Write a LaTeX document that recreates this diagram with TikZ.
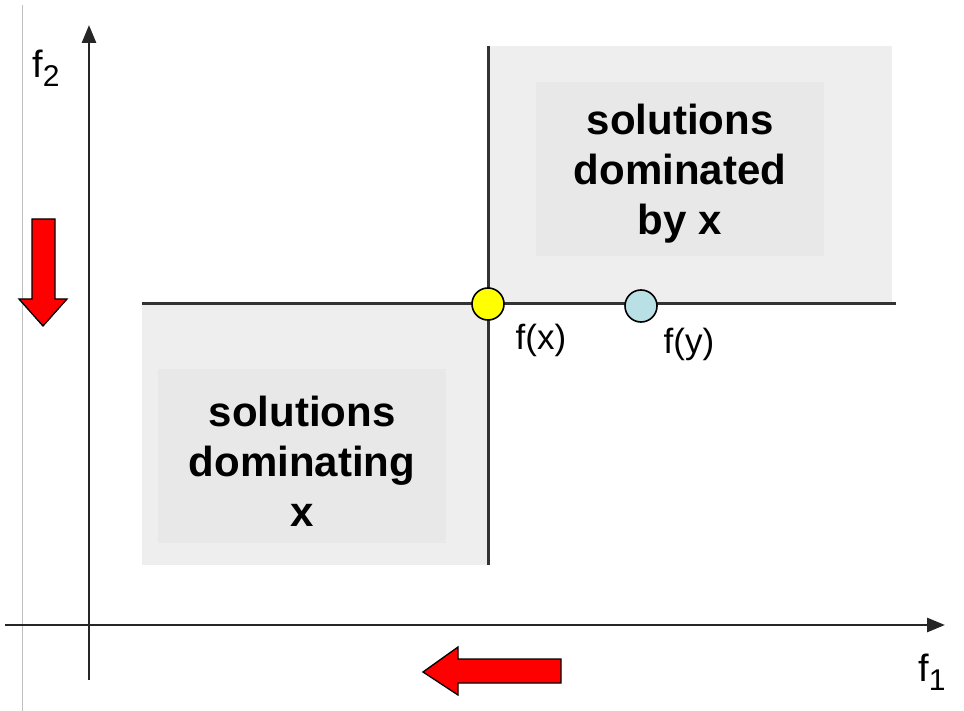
\documentclass[tikz,border=0pt]{standalone}
\usepackage{fontspec}
\setmainfont{Liberation Sans}
\usetikzlibrary{arrows.meta}
\definecolor{ptblue}{RGB}{185,224,228}
\definecolor{ptyellow}{RGB}{255,255,0}
\begin{document}
\begin{tikzpicture}[x=1pt,y=-1pt,
  region/.style={fill=gray!13,draw=none},
  inner/.style={fill=gray!18,draw=none},
  guide/.style={line width=3pt,draw=black!80},
  axis/.style={line width=2.8pt,draw=black!85,-{Triangle[length=18pt,width=14pt]}},
  bigtext/.style={align=center,font=\fontsize{42}{50}\selectfont\bfseries},
  lbl/.style={font=\fontsize{35}{40}\selectfont,inner sep=0pt},
  axlbl/.style={font=\fontsize{38}{40}\selectfont,inner sep=0pt},
  dot/.style={circle,draw=black,line width=1.6pt,minimum size=32pt,inner sep=0pt},
  redarrow/.style={fill=red,draw=black,line width=1.3pt,line join=miter}]
\useasboundingbox (0,0) rectangle (964,711);
\fill[white] (0,0) rectangle (964,711);
\draw[gray!50,line width=1pt] (22,5) -- (22,711);
% regions
\fill[region] (488,46) rectangle (892,304);
\fill[inner] (536,82) rectangle (824,256);
\fill[region] (142,304) rectangle (488,565);
\fill[inner] (158,369) rectangle (446,543);
% guide lines
\coordinate (hl) at (142,304);
\coordinate (hr) at (896,304);
\coordinate (vt) at (488,46);
\coordinate (vb) at (488,565);
\draw[guide] (hl) -- (hr);
\draw[guide] (vt) -- (vb);
% axes
\coordinate (xs) at (5,625);
\coordinate (xe) at (945,625);
\coordinate (ys) at (89,680);
\coordinate (ye) at (89,25);
\draw[axis] (xs) -- (xe);
\draw[axis] (ys) -- (ye);
\node[axlbl,anchor=center] (f1) at (932,672) {f\raisebox{-9pt}{\fontsize{30}{30}\selectfont 1}};
\node[axlbl,anchor=center] (f2) at (46,68) {f\raisebox{-9pt}{\fontsize{30}{30}\selectfont 2}};
% texts
\node[bigtext] (dom) at (680,174) {solutions\\dominated\\by x};
\node[bigtext] (doming) at (302,461) {solutions\\dominating\\x};
% points
\node[dot,fill=ptyellow] (fx) at (488,304) {};
\node[dot,fill=ptblue] (fy) at (641,306) {};
\node[lbl] (fxl) at (541,340) {f(x)};
\node[lbl] (fyl) at (689,344) {f(y)};
% red arrows
\draw[redarrow] (32,219) -- (55,219) -- (55,299) -- (67,299) -- (43,326) -- (19,299) -- (32,299) -- cycle;
\draw[redarrow] (561,659) -- (458,659) -- (458,647) -- (423,672) -- (458,695) -- (458,683) -- (561,683) -- cycle;
\end{tikzpicture}
\end{document}
